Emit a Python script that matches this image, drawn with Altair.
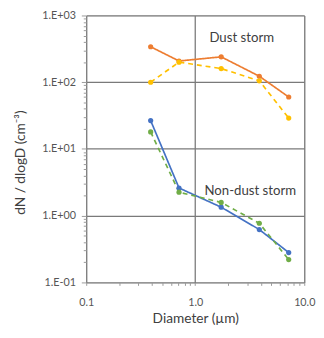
import altair as alt
import pandas as pd

# ---- data ----
diameter = [0.39, 0.71, 1.73, 3.87, 7.2]
dust_solid = [340, 208, 240, 123, 60]
dust_dashed = [100, 200, 160, 105, 29]
nondust_solid = [26.6, 2.6, 1.34, 0.62, 0.28]
nondust_dashed = [18, 2.25, 1.58, 0.77, 0.22]

series_names = ["Dust storm A", "Dust storm B", "Non-dust storm A", "Non-dust storm B"]
series_values = [dust_solid, dust_dashed, nondust_solid, nondust_dashed]
series_colors = ["#ED7D31", "#FFC000", "#4472C4", "#70AD47"]
series_dash = ["solid", "dashed", "solid", "dashed"]

x_ticks = [0.1, 0.2, 0.3, 0.4, 0.5, 0.6, 0.7, 0.8, 0.9, 1, 2, 3, 4, 5, 6, 7, 8, 9, 10]
y_ticks = [round(m * 10 ** e, 6) for e in range(-1, 3) for m in range(1, 10)] + [1000]

ann_text = ["Dust storm", "Non-dust storm"]
ann_x = [2.67, 3.2]
ann_y = [460, 2.3]

rows = []
for name, vals, dash in zip(series_names, series_values, series_dash):
    for d, v in zip(diameter, vals):
        rows.append({"d": d, "v": v, "series": name, "dash": dash})
df = pd.DataFrame(rows)
ann = pd.DataFrame({"t": ann_text, "x": ann_x, "y": ann_y})

FONT = "Lato"
major = "abs(log(datum.value)/LN10 - round(log(datum.value)/LN10)) < 0.001"

x_enc = alt.X(
    "d:Q",
    scale=alt.Scale(type="log", domain=[0.1, 10]),
    axis=alt.Axis(
        values=x_ticks,
        labelExpr="datum.value == 0.1 ? '0.1' : datum.value == 1 ? '1.0' : datum.value == 10 ? '10.0' : ''",
        labelOverlap=False,
        labelBound=False,
        labelFlush=False,
        labelPadding=12,
        labelFontSize=11,
        labelColor="#555555",
        labelFont=FONT,
        grid=True,
        gridColor="#7a7a7a",
        gridWidth=1.3,
        gridOpacity={"condition": {"test": major, "value": 1}, "value": 0},
        tickSize=3,
        tickColor="#9a9a9a",
        domain=False,
        title="Diameter (µm)",
        titleFont=FONT,
        titleFontSize=14,
        titleFontWeight="normal",
        titleColor="#404040",
        titlePadding=4,
    ),
)
y_enc = alt.Y(
    "v:Q",
    scale=alt.Scale(type="log", domain=[0.1, 1000]),
    axis=alt.Axis(
        values=y_ticks,
        labelExpr="datum.value == 1000 ? '1.E+03' : datum.value == 100 ? '1.E+02' : datum.value == 10 ? '1.E+01' : datum.value == 1 ? '1.E+00' : datum.value == 0.1 ? '1.E-01' : ''",
        labelOverlap=False,
        labelBound=False,
        labelFlush=False,
        labelPadding=6,
        labelFontSize=11,
        labelColor="#555555",
        labelFont=FONT,
        grid=True,
        gridColor="#7a7a7a",
        gridWidth=1.3,
        gridOpacity={"condition": {"test": major, "value": 1}, "value": 0},
        tickSize={"condition": {"test": major, "value": 5}, "value": 3},
        tickColor="#9a9a9a",
        domain=False,
        title="dN / dlogD (cm⁻³)",
        titleFont=FONT,
        titleFontSize=14,
        titleFontWeight="normal",
        titleColor="#404040",
        titleX=-60,
        titleY=150,
    ),
)

color = alt.Color("series:N", scale=alt.Scale(domain=series_names, range=series_colors), legend=None)

lines = alt.Chart(df).mark_line(strokeWidth=1.7).encode(
    x=x_enc,
    y=y_enc,
    color=color,
    strokeDash=alt.StrokeDash(
        "dash:N",
        scale=alt.Scale(domain=["solid", "dashed"], range=[[1, 0], [5, 4]]),
        legend=None,
    ),
    detail="series:N",
)
points = alt.Chart(df).mark_point(filled=True, size=28, opacity=1).encode(
    x="d:Q", y="v:Q", color=color
)
labels = alt.Chart(ann).mark_text(font=FONT, fontSize=13.5, color="#404040").encode(
    x="x:Q", y="y:Q", text="t:N"
)

chart = (
    alt.layer(lines, points, labels)
    .properties(
        width=223,
        height=273,
        autosize=alt.AutoSizeParams(type="none"),
        padding={"left": 80, "top": 4, "right": 12, "bottom": 45},
    )
    .configure_view(stroke="#9a9a9a", strokeWidth=1.5)
    .configure(background="white")
)

chart.save("out.html", embed_options={"renderer": "svg", "actions": False})
